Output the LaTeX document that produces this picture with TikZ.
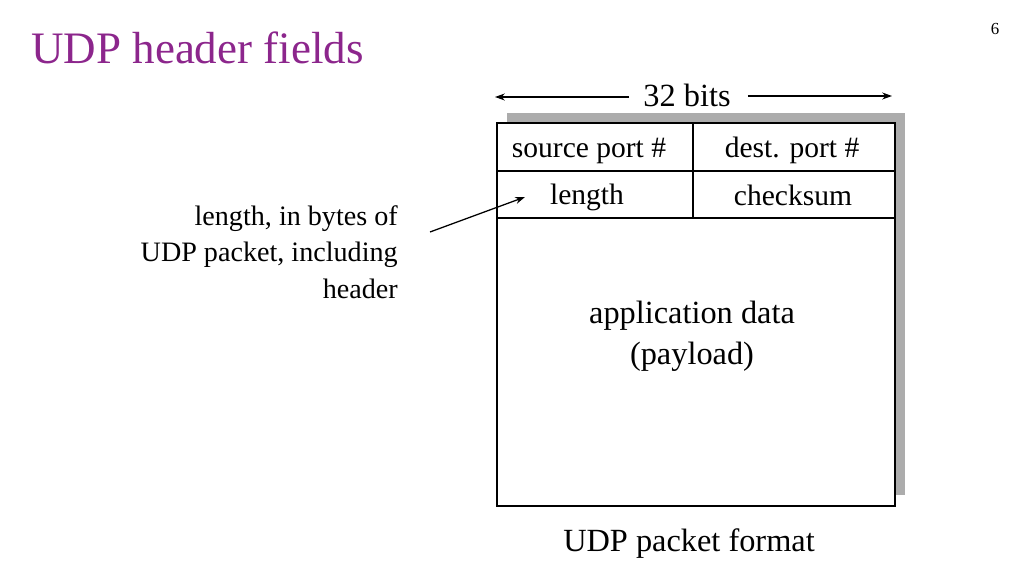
\documentclass[tikz,border=0pt]{standalone}
\usepackage{fontspec}
\setmainfont{Liberation Serif}
\usetikzlibrary{arrows.meta}
\definecolor{titlepurple}{RGB}{140,38,140}
\definecolor{shadowgray}{RGB}{172,172,172}
\begin{document}
\begin{tikzpicture}[x=0.025cm,y=-0.025cm]
\useasboundingbox (0,0) rectangle (1024,576);
\tikzstyle{every node}=[inner sep=0pt];
\tikzstyle{cell}=[font=\fontsize{21}{25}\selectfont];
\tikzstyle{big}=[font=\fontsize{23}{29}\selectfont];
\tikzstyle{note}=[font=\fontsize{20}{26}\selectfont,align=right];
\tikzstyle{pointer}=[-{Stealth[length=7pt,width=5pt]},line width=0.9pt];

\node(title)[anchor=west,text=titlepurple,font=\fontsize{32}{38}\selectfont] at (31,48) {UDP header fields};
\node(pagenum)[font=\fontsize{12}{14}\selectfont] at (995,29) {6};

% packet box with shadow
\fill[shadowgray] (507,113) rectangle (905,495);
\filldraw[fill=white,line width=1pt] (497,123) rectangle (895,506);
\path[line width=1pt]
  (497,171) edge (895,171)
  (497,218) edge (895,218)
  (693,123) edge (693,218);

\node(srcport)[cell] at (589,151) {source port \#};
\node(dstport)[cell] at (792,150) {dest. port \#};
\node(len)[cell] at (587,197) {length};
\node(chk)[cell] at (793,195) {checksum};
\node(appdata)[big,align=center] at (692,336) {application data\\(payload)};
\node(fmt)[big] at (689,544) {UDP packet format};

% 32 bits span
\node(bits)[big] at (687,95) {32 bits};
\coordinate(bitsL) at (495,97);
\coordinate(bitsR) at (892,96);
\draw[pointer] (bits.west)+(-14,2) -- (bitsL);
\draw[pointer] (bits.east)+(17,1) -- (bitsR);

% annotation
\node(lennote)[note,anchor=north east] at (398,205) {length, in bytes of\\UDP packet, including\\header};
\coordinate(lenfoot) at (430,232);
\coordinate(lenhead) at (525,197);
\draw[pointer] (lenfoot) -- (lenhead);

\end{tikzpicture}
\end{document}
